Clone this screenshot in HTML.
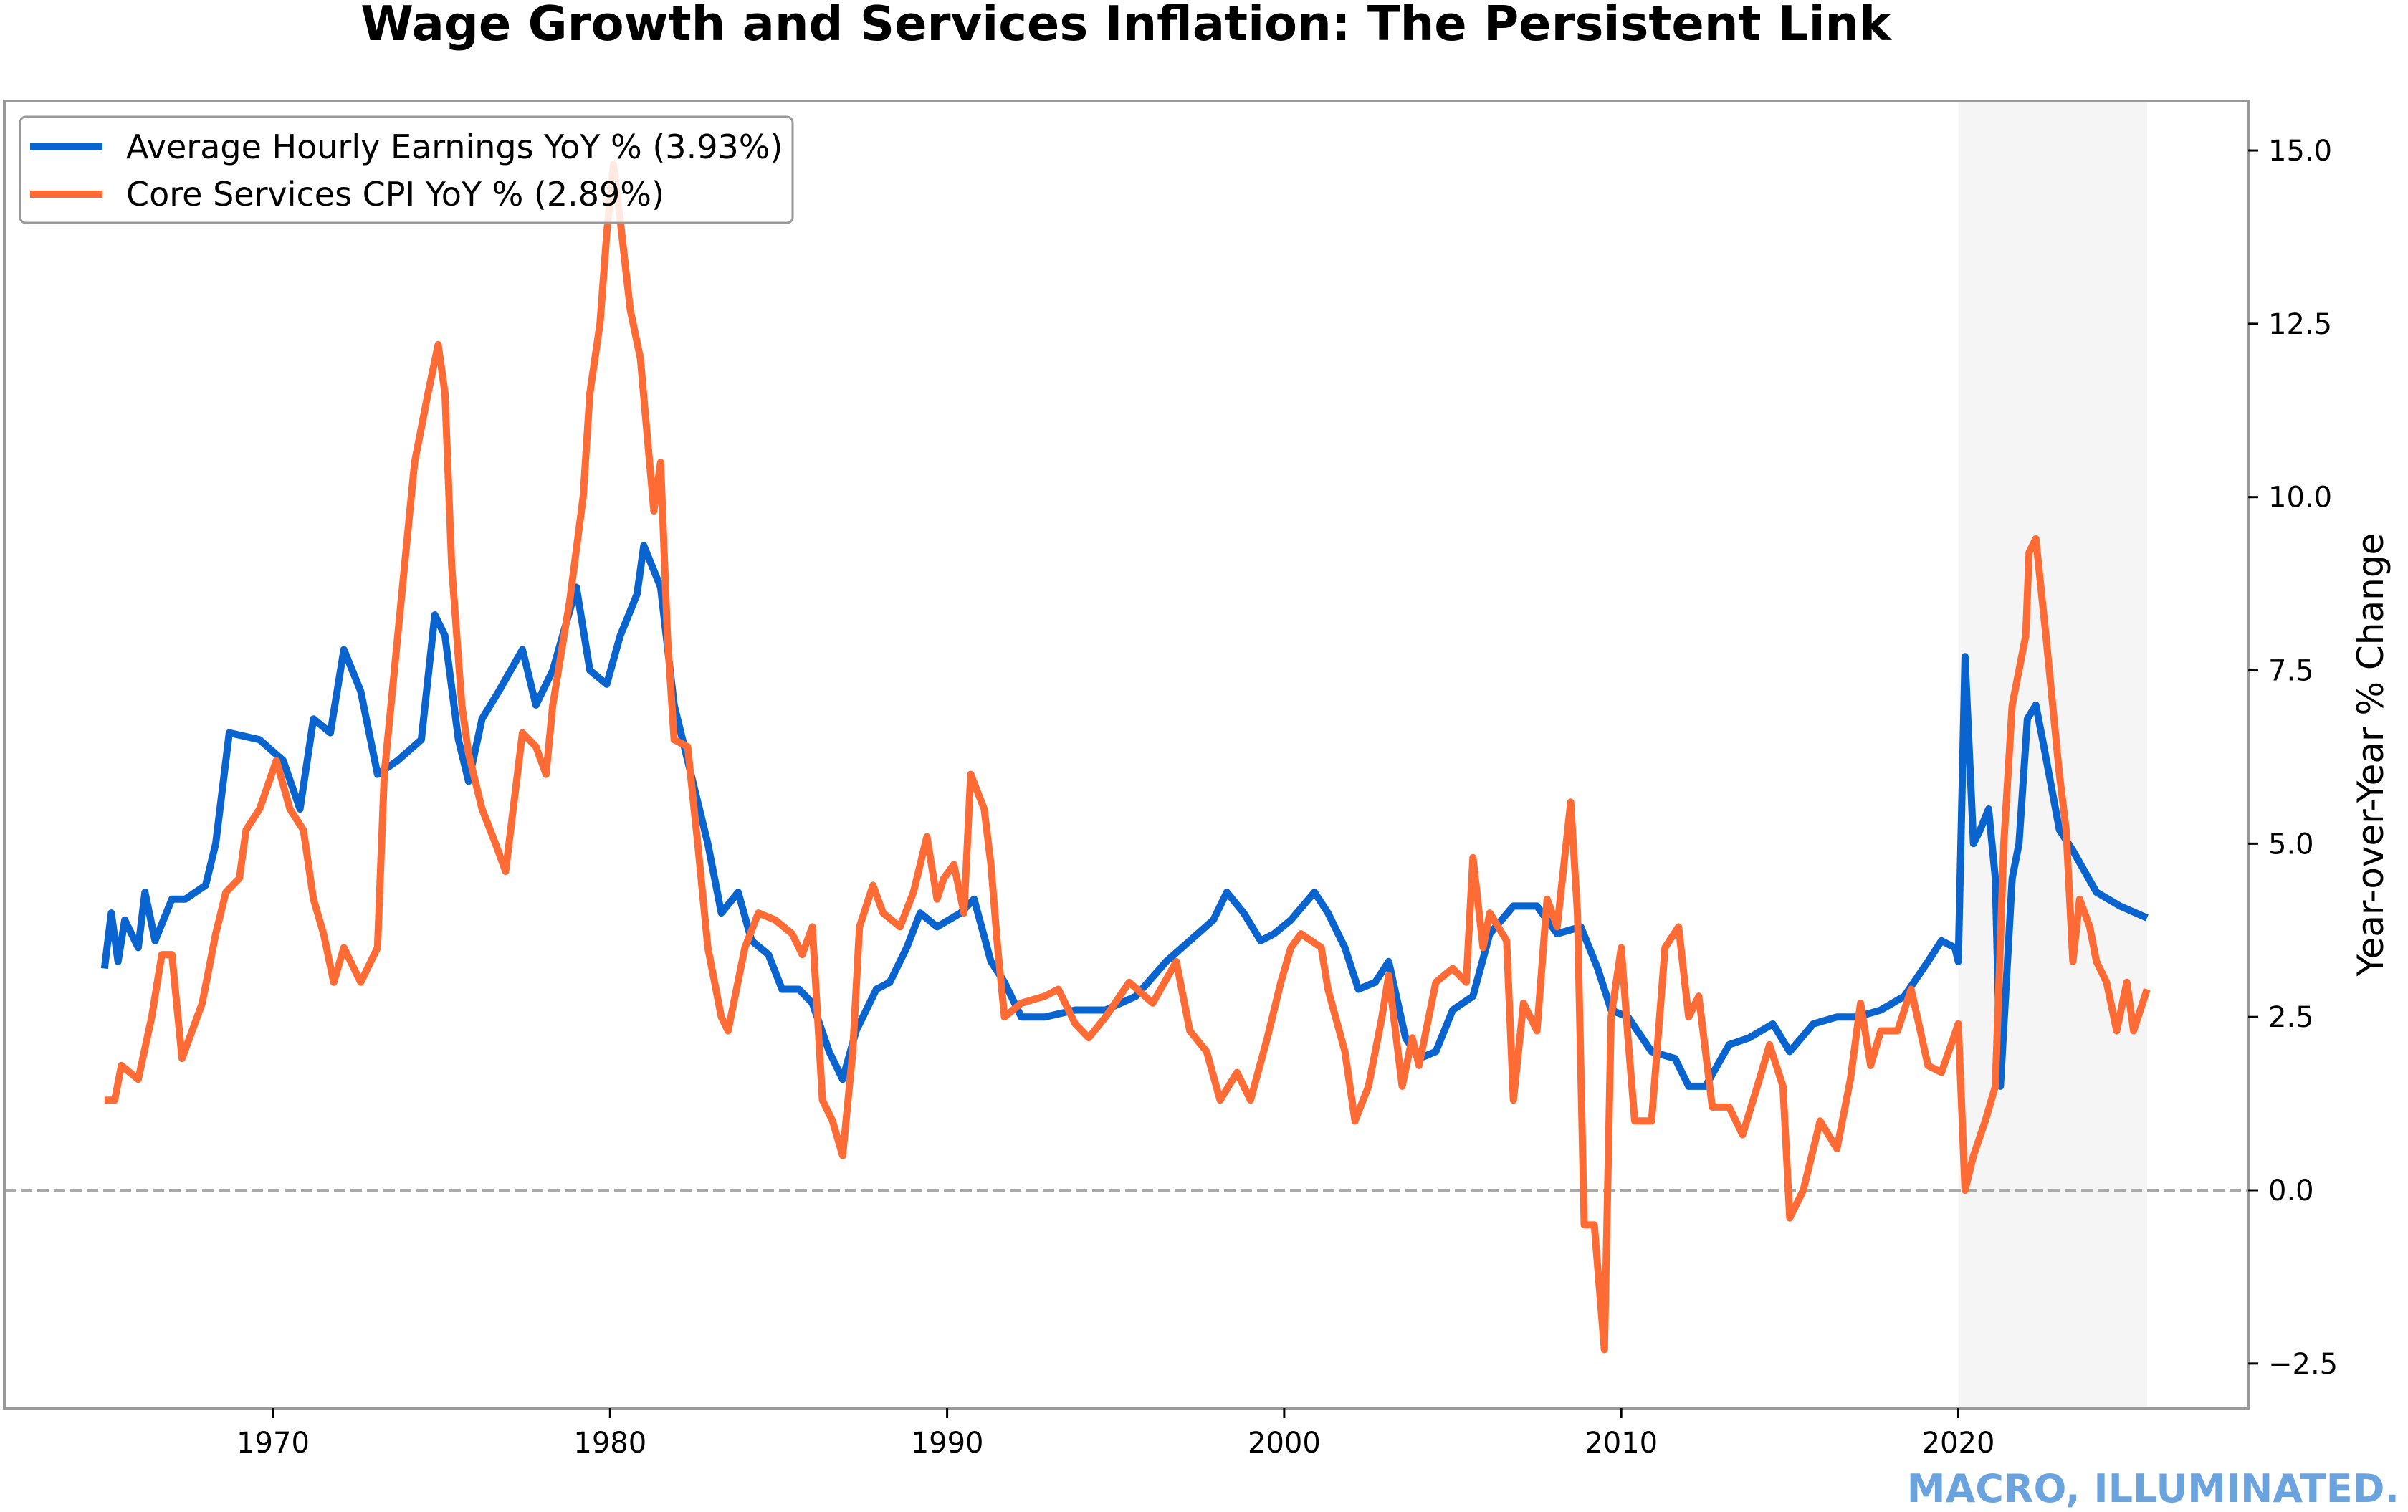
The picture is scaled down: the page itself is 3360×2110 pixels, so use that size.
<!DOCTYPE html>
<html><head><meta charset="utf-8"><style>
html,body{margin:0;padding:0;background:#fff;}
svg{display:block;font-family:"DejaVu Sans","Liberation Sans",sans-serif;}
</style></head><body>
<svg id="chart" width="3360" height="2110" viewBox="0 0 3360 2110" xmlns="http://www.w3.org/2000/svg">
<rect width="3360" height="2110" fill="#fff"/>
<text x="1571" y="56" font-size="67" font-weight="bold" text-anchor="middle">Wage Growth and Services Inflation: The Persistent Link</text>
<g id="plot"></g>
<text x="3348" y="2096" font-size="54" font-weight="bold" fill="#6aa3dd" text-anchor="end">MACRO, ILLUMINATED.</text>
</svg>
<script>
const xTicks = [1970, 1980, 1990, 2000, 2010, 2020];
const yTicks = [-2.5, 0, 2.5, 5, 7.5, 10, 12.5, 15];
const yTickLabels = ["\u22122.5", "0.0", "2.5", "5.0", "7.5", "10.0", "12.5", "15.0"];
const ahePoints = [[1965.0,3.2],[1965.2,4.0],[1965.4,3.3],[1965.6,3.9],[1966.0,3.5],[1966.2,4.3],[1966.5,3.6],[1967.0,4.2],[1967.4,4.2],[1968.0,4.4],[1968.3,5.0],[1968.7,6.6],[1969.6,6.5],[1970.3,6.2],[1970.8,5.5],[1971.2,6.8],[1971.7,6.6],[1972.1,7.8],[1972.6,7.2],[1973.1,6.0],[1973.7,6.2],[1974.4,6.5],[1974.8,8.3],[1975.1,8.0],[1975.5,6.5],[1975.8,5.9],[1976.2,6.8],[1976.7,7.2],[1977.4,7.8],[1977.8,7.0],[1978.3,7.5],[1979.0,8.7],[1979.4,7.5],[1979.9,7.3],[1980.3,8.0],[1980.8,8.6],[1981.0,9.3],[1981.5,8.7],[1981.9,7.0],[1982.4,6.0],[1982.9,5.0],[1983.3,4.0],[1983.8,4.3],[1984.2,3.6],[1984.7,3.4],[1985.1,2.9],[1985.6,2.9],[1986.0,2.7],[1986.5,2.0],[1986.9,1.6],[1987.3,2.3],[1987.9,2.9],[1988.3,3.0],[1988.8,3.5],[1989.2,4.0],[1989.7,3.8],[1990.4,4.0],[1990.8,4.2],[1991.3,3.3],[1991.7,3.0],[1992.2,2.5],[1992.9,2.5],[1993.8,2.6],[1994.7,2.6],[1995.6,2.8],[1996.5,3.3],[1997.2,3.6],[1997.9,3.9],[1998.3,4.3],[1998.8,4.0],[1999.3,3.6],[1999.7,3.7],[2000.2,3.9],[2000.9,4.3],[2001.3,4.0],[2001.8,3.5],[2002.2,2.9],[2002.7,3.0],[2003.1,3.3],[2003.6,2.2],[2004.0,1.9],[2004.5,2.0],[2005.0,2.6],[2005.6,2.8],[2006.1,3.7],[2006.8,4.1],[2007.5,4.1],[2008.1,3.7],[2008.8,3.8],[2009.3,3.2],[2009.7,2.6],[2010.2,2.5],[2010.9,2.0],[2011.6,1.9],[2012.0,1.5],[2012.5,1.5],[2013.2,2.1],[2013.8,2.2],[2014.5,2.4],[2015.0,2.0],[2015.7,2.4],[2016.4,2.5],[2017.0,2.5],[2017.7,2.6],[2018.4,2.8],[2019.1,3.3],[2019.5,3.6],[2019.9,3.5],[2020.0,3.3],[2020.2,7.7],[2020.45,5.0],[2020.65,5.2],[2020.9,5.5],[2021.1,4.5],[2021.25,1.5],[2021.6,4.5],[2021.8,5.0],[2022.05,6.8],[2022.3,7.0],[2022.5,6.5],[2023.0,5.2],[2023.4,4.9],[2024.1,4.3],[2024.8,4.1],[2025.6,3.93]];
const cpiPoints = [[1965.0,1.3],[1965.3,1.3],[1965.5,1.8],[1966.0,1.6],[1966.4,2.5],[1966.7,3.4],[1967.0,3.4],[1967.3,1.9],[1967.6,2.3],[1967.9,2.7],[1968.3,3.7],[1968.6,4.3],[1969.0,4.5],[1969.2,5.2],[1969.6,5.5],[1970.1,6.2],[1970.5,5.5],[1970.9,5.2],[1971.2,4.2],[1971.5,3.7],[1971.8,3.0],[1972.1,3.5],[1972.6,3.0],[1973.1,3.5],[1973.3,6.0],[1973.5,7.0],[1973.8,8.5],[1974.2,10.5],[1974.6,11.5],[1974.9,12.2],[1975.1,11.5],[1975.3,9.0],[1975.6,7.0],[1975.8,6.3],[1976.2,5.5],[1976.6,5.0],[1976.9,4.6],[1977.4,6.6],[1977.8,6.4],[1978.1,6.0],[1978.3,7.0],[1978.8,8.5],[1979.2,10.0],[1979.4,11.5],[1979.7,12.5],[1979.9,13.8],[1980.1,14.8],[1980.3,14.0],[1980.6,12.7],[1980.9,12.0],[1981.3,9.8],[1981.5,10.5],[1981.7,8.0],[1981.9,6.5],[1982.3,6.4],[1982.6,5.0],[1982.9,3.5],[1983.3,2.5],[1983.5,2.3],[1984.0,3.5],[1984.4,4.0],[1984.9,3.9],[1985.4,3.7],[1985.7,3.4],[1986.0,3.8],[1986.3,1.3],[1986.6,1.0],[1986.9,0.5],[1987.2,2.0],[1987.4,3.8],[1987.8,4.4],[1988.1,4.0],[1988.6,3.8],[1989.0,4.3],[1989.4,5.1],[1989.7,4.2],[1989.9,4.5],[1990.2,4.7],[1990.5,4.0],[1990.7,6.0],[1991.1,5.5],[1991.3,4.7],[1991.5,3.5],[1991.7,2.5],[1992.2,2.7],[1992.9,2.8],[1993.3,2.9],[1993.8,2.4],[1994.2,2.2],[1994.7,2.5],[1995.4,3.0],[1996.1,2.7],[1996.8,3.3],[1997.2,2.3],[1997.7,2.0],[1998.1,1.3],[1998.6,1.7],[1999.0,1.3],[1999.5,2.2],[1999.9,3.0],[2000.2,3.5],[2000.5,3.7],[2001.1,3.5],[2001.3,2.9],[2001.8,2.0],[2002.1,1.0],[2002.5,1.5],[2002.9,2.5],[2003.1,3.1],[2003.5,1.5],[2003.8,2.2],[2004.0,1.8],[2004.5,3.0],[2005.0,3.2],[2005.4,3.0],[2005.6,4.8],[2005.9,3.5],[2006.1,4.0],[2006.6,3.6],[2006.8,1.3],[2007.1,2.7],[2007.5,2.3],[2007.8,4.2],[2008.1,3.8],[2008.5,5.6],[2008.7,4.0],[2008.9,-0.5],[2009.2,-0.5],[2009.5,-2.3],[2009.7,2.5],[2010.0,3.5],[2010.2,2.2],[2010.4,1.0],[2010.9,1.0],[2011.3,3.5],[2011.7,3.8],[2012.0,2.5],[2012.3,2.8],[2012.7,1.2],[2013.2,1.2],[2013.6,0.8],[2014.1,1.6],[2014.4,2.1],[2014.8,1.5],[2015.0,-0.4],[2015.4,0.0],[2015.9,1.0],[2016.4,0.6],[2016.8,1.6],[2017.1,2.7],[2017.4,1.8],[2017.7,2.3],[2018.2,2.3],[2018.6,2.9],[2019.1,1.8],[2019.5,1.7],[2020.0,2.4],[2020.2,0.0],[2020.45,0.5],[2020.8,1.0],[2021.1,1.5],[2021.35,5.0],[2021.6,7.0],[2022.0,8.0],[2022.1,9.2],[2022.3,9.4],[2022.6,8.0],[2023.0,6.0],[2023.2,5.2],[2023.4,3.3],[2023.6,4.2],[2023.9,3.8],[2024.1,3.3],[2024.4,3.0],[2024.7,2.3],[2025.0,3.0],[2025.2,2.3],[2025.6,2.9]];
const shadeRange = [2020.0, 2025.6];

const NS = "http://www.w3.org/2000/svg";
const L = 6, R = 3137, T = 141, B = 1965;
function xS(yr){ return 381 + (yr - 1970) * 47.03; }
function yS(v){ return 1661 - v * 96.73; }
const g = document.getElementById('plot');
function mk(tag, attrs){ const e = document.createElementNS(NS, tag); for (const k in attrs) e.setAttribute(k, attrs[k]); g.appendChild(e); return e; }

const shade = mk('rect', {x: xS(shadeRange[0]), y: T, width: xS(shadeRange[1]) - xS(shadeRange[0]), height: B - T, fill: '#f5f5f5'});



const zero = mk('line', {x1: L, x2: R, y1: yS(0), y2: yS(0), stroke: '#aaa', 'stroke-width': 4, 'stroke-dasharray': '16,7'});



function line(pts, color, name){
  const d = pts.map((p, i) => (i ? 'L' : 'M') + xS(p[0]).toFixed(1) + ',' + yS(p[1]).toFixed(1)).join(' ');
  const p = mk('path', {d: d, fill: 'none', stroke: color, 'stroke-width': 10, 'stroke-linejoin': 'round'});
  
  
}
line(ahePoints, '#0a64cf', 'ahe-line');
line(cpiPoints, '#ff6b35', 'core-services-cpi-line');

const frame = mk('rect', {x: L, y: T, width: R - L, height: B - T, fill: 'none', stroke: '#999', 'stroke-width': 4});



xTicks.forEach(t => {
  const tk = mk('line', {x1: xS(t), x2: xS(t), y1: B, y2: B + 14, stroke: '#000', 'stroke-width': 3});
  
  
  const tx = mk('text', {x: xS(t), y: B + 62, 'font-size': 40, 'text-anchor': 'middle'});
  
  
  tx.textContent = t;
});
yTicks.forEach((t, i) => {
  const tk = mk('line', {x1: R, x2: R + 14, y1: yS(t), y2: yS(t), stroke: '#000', 'stroke-width': 3});
  
  
  const tx = mk('text', {x: R + 28, y: yS(t) + 14, 'font-size': 40});
  
  
  tx.textContent = yTickLabels[i];
});
const yl = mk('text', {x: 0, y: 0, 'font-size': 50, 'text-anchor': 'middle', transform: 'translate(3325,1053) rotate(-90)'});


yl.textContent = 'Year-over-Year % Change';

const lg = mk('rect', {x: 28, y: 163, width: 1078, height: 148, rx: 8, fill: '#fff', 'fill-opacity': 0.85, stroke: '#999', 'stroke-width': 3});


[['#0a64cf', 'Average Hourly Earnings YoY % (3.93%)', 205], ['#ff6b35', 'Core Services CPI YoY % (2.89%)', 271]].forEach(e => {
  const s = mk('line', {x1: 42, x2: 143, y1: e[2], y2: e[2], stroke: e[0], 'stroke-width': 10});
  
  
  const t = mk('text', {x: 176, y: e[2] + 16, 'font-size': 46});
  
  
  t.textContent = e[1];
});
</script>
</body></html>
